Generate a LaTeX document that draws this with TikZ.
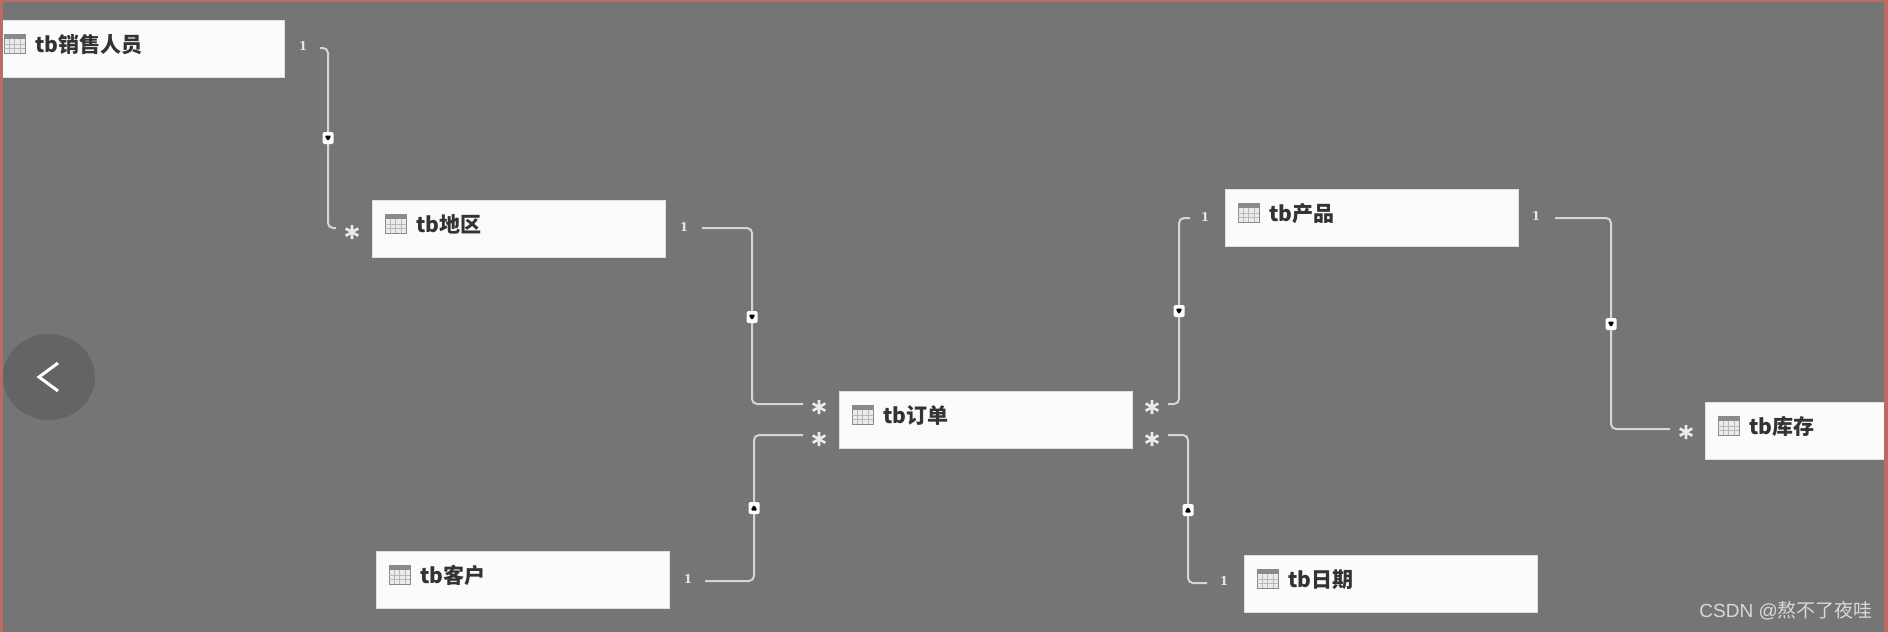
\documentclass[tikz,border=0pt]{standalone}
\usepackage{fontspec}
\newfontfamily\cjk{Noto Sans CJK SC}
\newfontfamily\wm{Liberation Sans}
\newfontfamily\cardface{DejaVu Serif}
\newfontfamily\starface[RawFeature={embolden=4}]{DejaVu Sans}
\usetikzlibrary{positioning,shapes.geometric}

\definecolor{canvasgray}{HTML}{757575}
\definecolor{framered}{HTML}{BC6A64}
\definecolor{cardwhite}{HTML}{FBFBFB}
\definecolor{linkgray}{HTML}{D6D6D6}
\definecolor{icongray}{HTML}{8A8A8A}

\begin{document}
\begin{tikzpicture}[x=1pt,y=-1pt,
    link/.style={draw=linkgray,line width=2pt,rounded corners=5pt},
    card/.style={anchor=north west,fill=cardwhite,draw=black!12,line width=.6pt,
      minimum width=293pt,minimum height=57pt,inner xsep=44pt,inner ysep=0pt,
      text width=205pt,align=left,text height=32pt,text depth=25pt,
      text=black!80,font=\cjk\bfseries\fontsize{21}{21}\selectfont,
      path picture={
        % drawn from the start of the text line
        \fill[black!8] (-31,-18) rectangle (-10,1);
        \fill[icongray] (-31,-18) rectangle (-10,-13);
        \draw[icongray,line width=.7pt] (-31,-18) rectangle (-10,1);
        \foreach \gx in {-26,-21,-15} \draw[icongray!60,line width=.6pt] (\gx,-13) -- (\gx,1);
        \foreach \gy in {-8,-4} \draw[icongray!60,line width=.6pt] (-31,\gy) -- (-10,\gy);
      }},
    one/.style={text=linkgray!60!white,inner sep=0pt,font=\cardface\bfseries\fontsize{12}{12}\selectfont},
    many/.style={text=white!92!black,inner sep=0pt,text height=29pt,text depth=0pt,
      font=\starface\fontsize{28}{28}\selectfont},
    markdown/.style={fill=white,rounded corners=1.5pt,minimum width=11pt,minimum height=12pt,inner sep=0pt,
      path picture={\fill[black] ([xshift=-3.5pt,yshift=2.5pt]path picture bounding box.center) -- ++(7,0) -- ++(-3.5,6) -- cycle;}},
    markup/.style={fill=white,rounded corners=1.5pt,minimum width=11pt,minimum height=12pt,inner sep=0pt,
      path picture={\fill[black] ([xshift=-3.5pt,yshift=-2.5pt]path picture bounding box.center) -- ++(7,0) -- ++(-3.5,-6) -- cycle;}}]

  \path[use as bounding box,clip] (0,0) rectangle (1888,632);
  \fill[canvasgray] (0,0) rectangle (1888,632);

  % Tables
  \node[card] (sales)    at (-9,20)   {tb销售人员};
  \node[card] (region)   at (372,200) {tb地区};
  \node[card] (orders)   at (839,391) {tb订单};
  \node[card] (product)  at (1225,189) {tb产品};
  \node[card] (stock)    at (1705,402) {tb库存};
  \node[card] (customer) at (376,551) {tb客户};
  \node[card] (calendar) at (1244,555) {tb日期};

  % Cardinalities
  \node[one]  (salesOne)     at (303,46)   {1};
  \node[many] (regionMany)   at (352,232)  {*};
  \node[one]  (regionOne)    at (684,227)  {1};
  \node[many] (ordersManyA)  at (819,407)  {*};
  \node[many] (ordersManyB)  at (819,439)  {*};
  \node[one]  (customerOne)  at (688,579)  {1};
  \node[many] (ordersManyC)  at (1152,407) {*};
  \node[many] (ordersManyD)  at (1152,439) {*};
  \node[one]  (productOne)   at (1205,217) {1};
  \node[one]  (calendarOne)  at (1224,581) {1};
  \node[one]  (productOut)   at (1536,216) {1};
  \node[many] (stockMany)    at (1686,432) {*};

  % Free ends of the links
  \coordinate (a1) at (320,48);   \coordinate (a2) at (328,138);  \coordinate (a3) at (336,228);
  \coordinate (b1) at (702,228);  \coordinate (b2) at (752,317);  \coordinate (b3) at (803,404);
  \coordinate (c1) at (705,581);  \coordinate (c2) at (754,508);  \coordinate (c3) at (803,435);
  \coordinate (d1) at (1168,404); \coordinate (d2) at (1179,311); \coordinate (d3) at (1190,218);
  \coordinate (e1) at (1168,435); \coordinate (e2) at (1188,510); \coordinate (e3) at (1207,583);
  \coordinate (f1) at (1555,218); \coordinate (f2) at (1611,324); \coordinate (f3) at (1670,429);

  % Links
  \path[link] (a1) -| (a2) |- (a3);
  \path[link] (b1) -| (b2) |- (b3);
  \path[link] (c1) -| (c2) |- (c3);
  \path[link] (d1) -| (d2) |- (d3);
  \path[link] (e1) -| (e2) |- (e3);
  \path[link] (f1) -| (f2) |- (f3);

  % Direction marks
  \node[markdown] (markA) at (a2) {};
  \node[markdown] (markB) at (b2) {};
  \node[markup]   (markC) at (c2) {};
  \node[markdown] (markD) at (d2) {};
  \node[markup]   (markE) at (e2) {};
  \node[markdown] (markF) at (f2) {};

  % Back button
  \node[ellipse,fill=black,fill opacity=.14,minimum width=92pt,minimum height=86pt,inner sep=0pt] (back) at (49,377) {};
  \coordinate (backTop) at (58,363);
  \coordinate (backTip) at (39,377);
  \coordinate (backEnd) at (58,391);
  \draw[white,line width=3pt] (backTop) -- (backTip) -- (backEnd);

  % Watermark
  \node[anchor=east,inner sep=0pt,text=black!15,font=\fontsize{19}{19}\selectfont] (mark) at (1873,611)
    {{\wm CSDN @}{\cjk 熬不了夜哇}};

  % Frame
  \fill[framered] (0,0) rectangle (3,632);
  \fill[framered] (0,0) rectangle (1888,2);
  \fill[framered] (1884,0) rectangle (1888,632);

\end{tikzpicture}
\end{document}
